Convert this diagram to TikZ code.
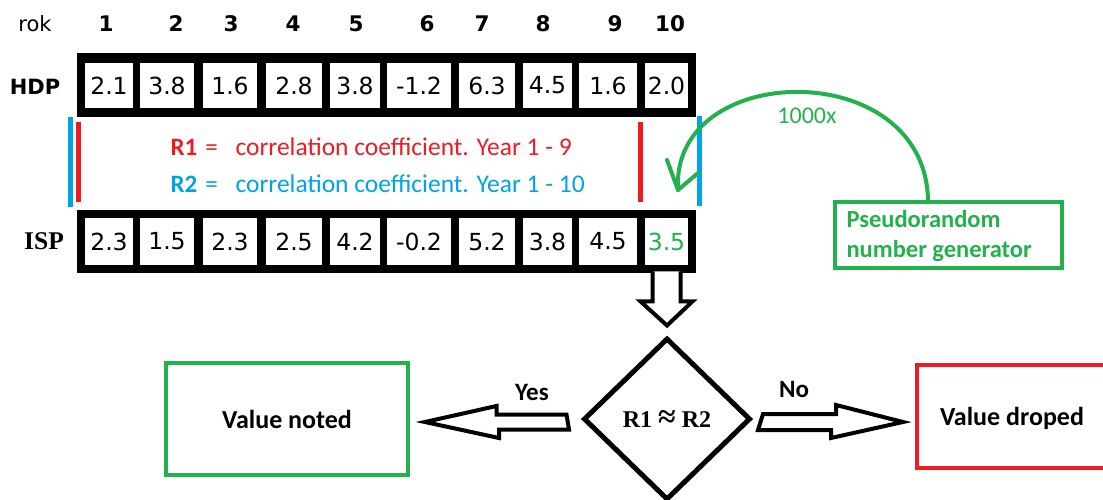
\documentclass[tikz,border=0pt]{standalone}
\usepackage{fontspec}
\setmainfont{DejaVu Sans}
\newfontfamily\calfont{Carlito}
\newfontfamily\serfont{Liberation Serif}
\usetikzlibrary{shapes.geometric,calc}
\definecolor{pred}{HTML}{ED1C24}
\definecolor{pblue}{HTML}{00A2E8}
\definecolor{pgreen}{HTML}{22B14C}
\begin{document}
\begin{tikzpicture}[x=1pt,y=-1pt,
  yearlbl/.style={anchor=base,font=\fontsize{21.5}{23}\selectfont\bfseries},
  rowlbl/.style={anchor=base},
  frame/.style={fill=black,draw=none,inner sep=0pt,anchor=north west,minimum width=619pt},
  cellbox/.style={fill=white,draw=none,inner sep=0pt,font=\fontsize{23.5}{25}\selectfont},
  corrtext/.style={anchor=base west,font=\calfont\fontsize{25.5}{28}\selectfont},
  corrlbl/.style={anchor=base west,font=\calfont\bfseries\fontsize{25}{28}\selectfont},
  vbar/.style={line width=4.5pt},
  greenline/.style={draw=pgreen,line width=4pt,line cap=round,line join=round},
  resbox/.style={draw,line width=4pt,inner sep=0pt,font=\calfont\bfseries\fontsize{26}{28}\selectfont,text depth=0pt},
  blockarr/.style={draw=black,fill=white,line width=4pt,line join=miter},
  arrlbl/.style={anchor=base,font=\calfont\bfseries\fontsize{25}{28}\selectfont},
]
\useasboundingbox (0,0) rectangle (1103,500);

% year labels
\node[rowlbl,font=\fontsize{21}{23}\selectfont] (rok) at (35,32) {rok};
\foreach \n/\x in {1/106,2/176,3/231,4/293,5/356,6/427,7/482,8/543,9/615,10/670}
  \node[yearlbl] (y\n) at (\x,32) {\n};

% row labels
\node[rowlbl,font=\fontsize{21}{23}\selectfont\bfseries] (hdp) at (35,95) {HDP};
\node[rowlbl,font=\serfont\bfseries\fontsize{25.5}{27}\selectfont] (isp) at (44,249) {ISP};

% frames
\node[frame,minimum height=64pt] (hdpframe) at (77,53) {};
\node[frame,minimum height=63pt] (ispframe) at (77,210) {};

% cells
\foreach \i/\l/\r/\hv/\iv/\ic in {1/85/133/2.1/2.3/black,2/140/194/3.8/1.5/black,3/203/257/1.6/2.3/black,4/266/322/2.8/2.5/black,5/330/380/3.8/4.2/black,6/387/451/-1.2/-0.2/black,7/459/515/6.3/5.2/black,8/523/572/4.5/3.8/black,9/579/637/1.6/4.5/black,10/645/688/2.0/3.5/pgreen}{
  \pgfmathsetmacro{\w}{\r-\l}
  \pgfmathsetmacro{\c}{(\l+\r)/2}
  \node[cellbox,minimum width=\w pt,minimum height=45pt] (h\i) at (\c,85.5) {\hv};
  \node[cellbox,minimum width=\w pt,minimum height=47pt,text=\ic] (i\i) at (\c,241.5) {\iv};
}

% coloured bars
\draw[vbar,pblue] (70.5,117) -- (70.5,207);
\draw[vbar,pred] (78.5,122) -- (78.5,202);
\draw[vbar,pred] (640.5,122) -- (640.5,202);
\draw[vbar,pblue] (699.5,116) -- (699.5,206);

% correlation texts
\node[corrlbl,text=pred] (r1) at (167,156) {R1\hspace{8pt}\mdseries=};
\node[corrtext,text=pred] (r1t) at (232,156) {correlation coefficient. Year 1 - 9};
\node[corrlbl,text=pblue] (r2) at (167,192) {R2\hspace{8pt}\mdseries=};
\node[corrtext,text=pblue] (r2t) at (232,192) {correlation coefficient. Year 1 - 10};

% pseudorandom generator
\node[draw=pgreen,line width=4pt,minimum width=227pt,minimum height=66pt,inner sep=0pt] (gen) at (948.5,235) {};
\node[anchor=base west,text=pgreen,font=\calfont\bfseries\fontsize{24.5}{28}\selectfont] (gen1) at (843,227) {Pseudorandom};
\node[anchor=base west,text=pgreen,font=\calfont\bfseries\fontsize{24.5}{28}\selectfont] (gen2) at (843,257) {number generator};

% green arc with open arrowhead
\coordinate (gtip) at (678,190);
\draw[greenline] ($(gen.north)+(-20.5,0)$) .. controls (925,55) and (670,60) .. (gtip);
\draw[greenline] ($(gtip)+(-11,-30)$) -- (gtip) -- ($(gtip)+(20,-17)$);
\node[anchor=base,text=pgreen,font=\calfont\fontsize{24}{26}\selectfont] (times) at (807,124) {1000x};

% decision diamond
\node[diamond,draw,line width=5pt,minimum width=167pt,minimum height=162pt,inner sep=0pt,
      font=\serfont\bfseries\fontsize{24}{26}\selectfont,text depth=0pt] (dia) at (667,419) {R1 {\fontsize{32}{32}\selectfont ≈} R2};

% result boxes
\node[resbox,draw=pgreen,minimum width=242pt,minimum height=112pt] (noted) at (287,419) {Value noted};
\node[resbox,draw=pred,minimum width=190pt,minimum height=103pt] (droped) at (1012,416.5) {Value droped};

% down block arrow
\coordinate (dtop) at (i10.south |- ispframe.south);
\coordinate (dtip) at ($(dia.north)+(0,-10)$);
\draw[blockarr] ($(dtop)+(-14,-2)$) -- ($(dtop)+(-14,28)$) -- ($(dtop)+(-26,28)$) -- (dtip)
  -- ($(dtop)+(26,28)$) -- ($(dtop)+(14,28)$) -- ($(dtop)+(14,-2)$);

% yes block arrow (to the left)
\coordinate (ya) at ($(dia.west)+(-14.5,3)$);
\coordinate (ytip) at ($(noted.east)+(15,3)$);
\draw[blockarr] ($(ya)+(0,-7.5)$) -- ++(-70,0) -- ++(0,-8.5) -- (ytip) -- ++(74,16) -- ++(0,-8.5) -- ++(70,0) -- cycle;
\node[arrlbl] (yes) at (532,400) {Yes};

% no block arrow (to the right)
\coordinate (na) at ($(dia.east)+(10,3)$);
\coordinate (ntip) at ($(droped.west)+(-12,5.5)$);
\draw[blockarr] ($(na)+(0,-8)$) -- ++(73,0) -- ++(0,-9) -- (ntip) -- ++(-72,16) -- ++(0,-8) -- ++(-73,0) -- cycle;
\node[arrlbl] (no) at (794,397) {No};
\end{tikzpicture}
\end{document}
